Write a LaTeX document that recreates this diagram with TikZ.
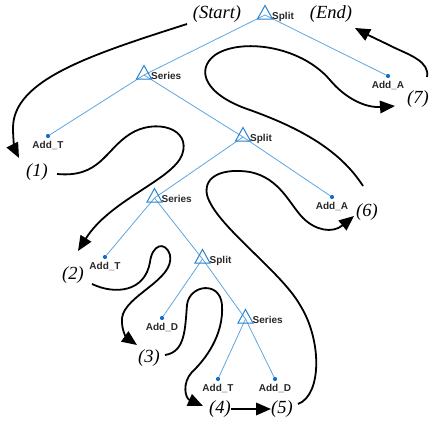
\documentclass[tikz,border=0pt]{standalone}
\usepackage{fontspec}
\setmainfont{Liberation Serif}
\setsansfont{Liberation Sans}
\usetikzlibrary{arrows.meta,calc}
\definecolor{edgeblue}{RGB}{95,165,222}
\definecolor{triblue}{RGB}{40,130,205}
\definecolor{dotblue}{RGB}{20,110,200}
\definecolor{lbltext}{RGB}{40,40,40}
\tikzset{
  edge/.style={draw=edgeblue, line width=0.8pt},
  leafdot/.style={circle, fill=dotblue, inner sep=0pt, minimum size=4.2pt},
  lbl/.style={font=\sffamily\bfseries\fontsize{10}{12}\selectfont, text=lbltext, inner sep=0pt},
  stplbl/.style={font=\itshape\fontsize{18.5}{20}\selectfont, inner sep=0pt},
  arr/.style={line width=1.8pt, -{Triangle[length=15pt,width=12.5pt]}},
  trishape/.style={draw=triblue, line width=1pt, line join=miter},
}
\newcommand{\opnode}[3]{%
  \coordinate (#1) at #2;
  \draw[trishape] ($(#1)+(-7.5,4)$) -- ($(#1)+(0,-9.5)$) -- ($(#1)+(7.5,4)$) -- cycle;
  \node[lbl, anchor=base west] (#1lbl) at ($(#1)+(7,4.5)$) {#3};
}
\begin{document}
\begin{tikzpicture}[x=1pt,y=-1pt]
\useasboundingbox (0,0) rectangle (429,423);
% tree coordinates
\coordinate (sp1) at (265,15);
\coordinate (se1) at (144,75);
\coordinate (sp2) at (243,137);
\coordinate (se2) at (154.5,198);
\coordinate (sp3) at (202.5,259);
\coordinate (se3) at (245.5,319);
\node[leafdot] (aa1) at (388,76) {};
\node[leafdot] (at1) at (48,136) {};
\node[leafdot] (aa2) at (332,197) {};
\node[leafdot] (at2) at (105,257) {};
\node[leafdot] (ad1) at (162,318) {};
\node[leafdot] (at3) at (218,379) {};
\node[leafdot] (ad2) at (275,379) {};
% edges
\draw[edge] (sp1) -- (se1);
\draw[edge] (sp1) -- (aa1);
\draw[edge] (se1) -- (at1);
\draw[edge] (se1) -- (sp2);
\draw[edge] (sp2) -- (se2);
\draw[edge] (sp2) -- (aa2);
\draw[edge] (se2) -- (at2);
\draw[edge] (se2) -- (sp3);
\draw[edge] (sp3) -- (ad1);
\draw[edge] (sp3) -- (se3);
\draw[edge] (se3) -- (at3);
\draw[edge] (se3) -- (ad2);
% operator triangles and labels
\opnode{sp1}{(265,15)}{Split}
\opnode{se1}{(144,75)}{Series}
\opnode{sp2}{(243,137)}{Split}
\opnode{se2}{(154.5,198)}{Series}
\opnode{sp3}{(202.5,259)}{Split}
\opnode{se3}{(245.5,319)}{Series}
% leaf labels
\node[lbl, anchor=base] (aa1lbl) at (388,88) {Add\_A};
\node[lbl, anchor=base] (at1lbl) at (48,148) {Add\_T};
\node[lbl, anchor=base] (aa2lbl) at (332,209) {Add\_A};
\node[lbl, anchor=base] (at2lbl) at (105,269) {Add\_T};
\node[lbl, anchor=base] (ad1lbl) at (162,330) {Add\_D};
\node[lbl, anchor=base] (at3lbl) at (218,391) {Add\_T};
\node[lbl, anchor=base] (ad2lbl) at (275,391) {Add\_D};
% step labels
\node[stplbl] (sstart) at (217,14) {(Start)};
\node[stplbl] (send) at (331,14) {(End)};
\node[stplbl] (s1) at (37,172) {(1)};
\node[stplbl] (s2) at (73,275) {(2)};
\node[stplbl] (s3) at (149,358) {(3)};
\node[stplbl] (s4) at (220,409) {(4)};
\node[stplbl] (s5) at (282,409) {(5)};
\node[stplbl] (s6) at (367,212) {(6)};
\node[stplbl] (s7) at (418,99) {(7)};
% curve end points
\coordinate (a0) at (187,24);
\coordinate (a1) at (19,158);
\coordinate (b0) at (57,174);
\coordinate (b1) at (78,251);
\coordinate (c0) at (92,284);
\coordinate (c1) at (137,345);
\coordinate (d0) at (165,355);
\coordinate (d1) at (203,406);
\coordinate (f0) at (298,404);
\coordinate (f1) at (354,216);
\coordinate (g0) at (363,186);
\coordinate (g1) at (395,106);
\coordinate (h0) at (427,77);
\coordinate (h1) at (355,28);
% traversal curves
\draw[arr] (a0) .. controls (90,55) and (13,80) .. (13,128) .. controls (13,140) and (15,150) .. (a1);
\draw[arr] (b0) .. controls (100,178) and (105,150) .. (130,134) .. controls (155,118) and (192,128) .. (182,155) .. controls (172,180) and (110,200) .. (b1);
\draw[arr] (c0) .. controls (115,295) and (145,292) .. (150,262) .. controls (152,245) and (165,240) .. (170,255) .. controls (175,280) and (125,295) .. (122,318) .. controls (121,330) and (127,338) .. (c1);
\draw[arr] (d0) .. controls (185,352) and (185,330) .. (187,305) .. controls (189,285) and (220,280) .. (222,305) .. controls (224,335) and (205,360) .. (192,372) .. controls (182,383) and (185,398) .. (d1);
\draw[arr] (s4.east) -- (s5.west);
\draw[arr] (f0) .. controls (322,395) and (322,340) .. (300,305) .. controls (280,270) and (215,225) .. (207,195) .. controls (203,175) and (225,168) .. (250,172) .. controls (280,178) and (290,205) .. (303,218) .. controls (315,230) and (332,234) .. (f1);
\draw[arr] (g0) .. controls (340,150) and (300,128) .. (250,110) .. controls (205,95) and (195,70) .. (215,55) .. controls (240,38) and (300,45) .. (330,80) .. controls (345,98) and (365,108) .. (g1);
\draw[arr] (h0) .. controls (430,62) and (410,55) .. (395,48) .. controls (385,43) and (372,37) .. (h1);
\end{tikzpicture}
\end{document}
